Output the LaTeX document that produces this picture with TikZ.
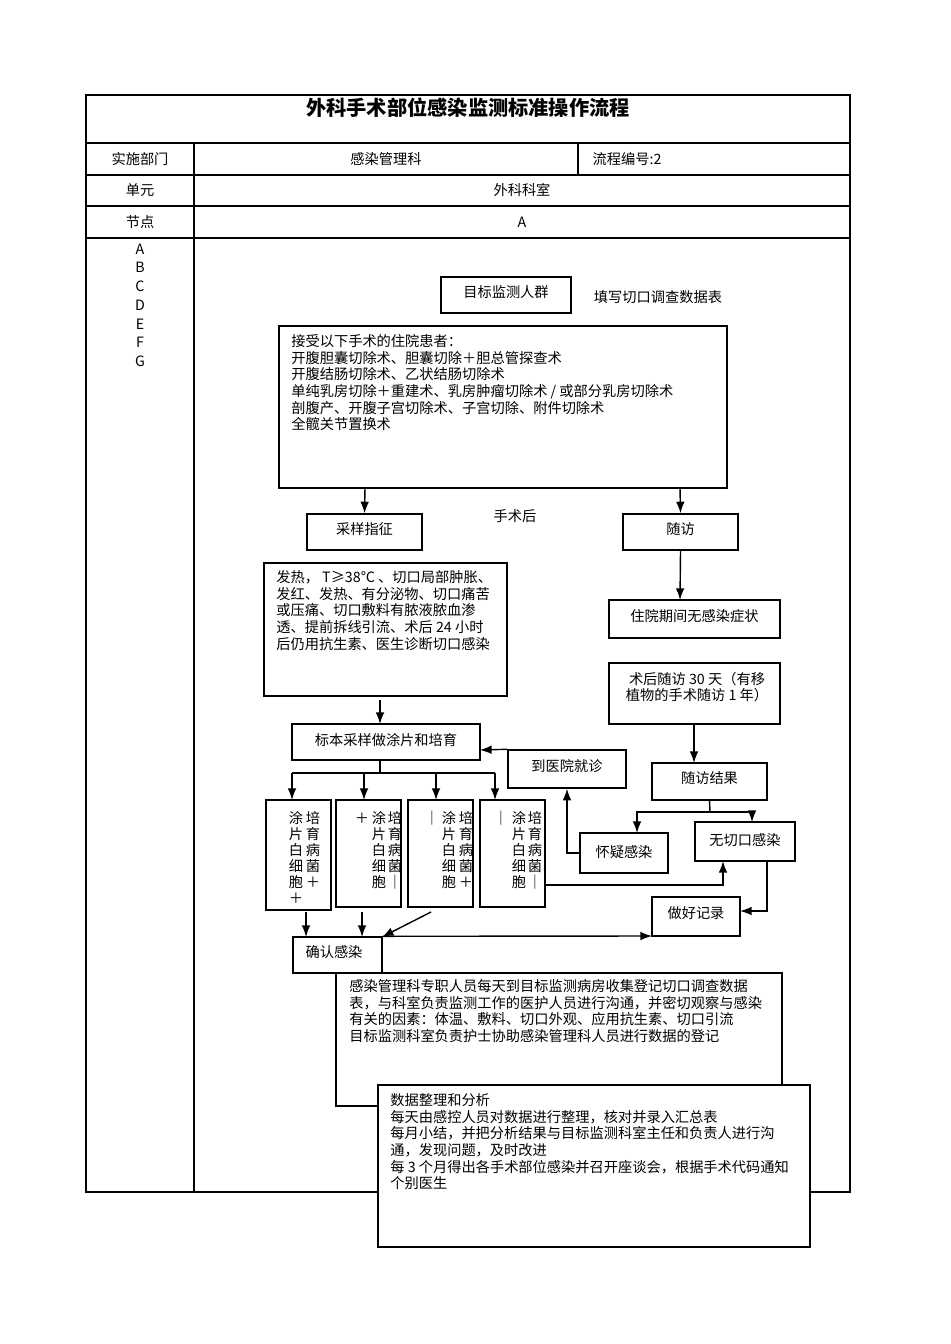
\documentclass[tikz,border=0pt]{standalone}
\usepackage{fontspec}
\setmainfont{Liberation Serif}
\newfontfamily\cjk{Noto Sans CJK SC}
\usetikzlibrary{arrows.meta}
\tikzset{
  box/.style={draw, thick, inner sep=0pt},
  lbl/.style={inner sep=0pt, font=\cjk\fontsize{8.1}{9.5}\selectfont},
  txt/.style={lbl, anchor=north west, align=left},
  arr/.style={thick, -Latex},
  ln/.style={thick}
}
\begin{document}
\begin{tikzpicture}[x=0.02cm, y=-0.02cm]
        \useasboundingbox (0,0) rectangle (950,1344);
        % table frame
        \draw[ln] (86,95) rectangle (850,1192);
        \draw[ln] (86,143) -- (850,143);
        \draw[ln] (86,175) -- (850,175);
        \draw[ln] (86,206) -- (850,206);
        \draw[ln] (86,238) -- (850,238);
        \draw[ln] (194,143) -- (194,1192);
        \draw[ln] (578,143) -- (578,175);
        \node[lbl, font=\cjk\bfseries\fontsize{11.5}{13}\selectfont] (title) at (468,108) {外科手术部位感染监测标准操作流程};
        \node[lbl] (dep) at (140,159) {实施部门};
        \node[lbl] (depv) at (386,159) {感染管理科};
        \node[lbl] (num) at (627,159) {流程编号:2};
        \node[lbl] (unit) at (140,190) {单元};
        \node[lbl] (unitv) at (522,190) {外科科室};
        \node[lbl] (nd) at (140,222) {节点};
        \node[lbl] (ndv) at (522,222) {A};
        \foreach \l [count=\i from 0] in {A,B,C,D,E,F,G}
          \node[lbl] (n\l) at (140,{249+18.7*\i}) {\l};
        % upper boxes
        \node[box, minimum width=2.6cm, minimum height=0.72cm] (tgt) at (506,295) {};
        \node[lbl] at (506,292) {目标监测人群};
        \node[lbl] (form) at (658,297) {填写切口调查数据表};
        \node[box, minimum width=8.96cm, minimum height=3.24cm] (ops) at (503,407) {};
        \node[txt] at (291,334) {接受以下手术的住院患者：\\开腹胆囊切除术、胆囊切除＋胆总管探查术\\开腹结肠切除术、乙状结肠切除术\\单纯乳房切除＋重建术、乳房肿瘤切除术 / 或部分乳房切除术\\剖腹产、开腹子宫切除术、子宫切除、附件切除术\\全髋关节置换术};
        \node[box, minimum width=2.3cm, minimum height=0.72cm] (cy) at (364.5,532) {};
        \node[lbl] at (364.5,529) {采样指征};
        \node[lbl] (after) at (515,516) {手术后};
        \node[box, minimum width=2.3cm, minimum height=0.72cm] (sf) at (680.5,532) {};
        \node[lbl] at (680.5,529) {随访};
        \draw[arr] (365,488) -- (cy.north);
        \draw[arr] (680,488) -- (sf.north);
        \node[box, minimum width=4.86cm, minimum height=2.66cm] (fr) at (385.5,629.5) {};
        \node[txt] at (276,570) {发热， T≥38℃ 、切口局部肿胀、\\发红、发热、有分泌物、切口痛苦\\或压痛、切口敷料有脓液脓血渗\\透、提前拆线引流、术后 24 小时\\后仍用抗生素、医生诊断切口感染};
        \node[box, minimum width=3.42cm, minimum height=0.76cm] (wzz) at (694.5,619) {};
        \node[lbl] at (694.5,616) {住院期间无感染症状};
        \draw[arr] (sf.south) -- (680,600);
        \node[box, minimum width=3.42cm, minimum height=1.22cm] (sh) at (694.5,693.5) {};
        \node[lbl, align=center] at (697,687) {术后随访 30 天（有移\\植物的手术随访 1 年）};
        \node[box, minimum width=3.76cm, minimum height=0.72cm] (bb) at (386,742) {};
        \node[lbl] at (386,740) {标本采样做涂片和培育};
        \draw[arr] (380,700) -- (380,724);
        \node[box, minimum width=2.36cm, minimum height=0.76cm] (jz) at (567,769) {};
        \node[lbl] at (567,766) {到医院就诊};
        \draw[arr] (jz.north west) -- (480,750);
        \node[box, minimum width=2.3cm, minimum height=0.74cm] (jg) at (709.5,781.5) {};
        \node[lbl] at (709.5,778) {随访结果};
        \draw[arr] (694,724) -- (694,763);
        \node[box, minimum width=1.76cm, minimum height=0.8cm] (yy) at (624,853) {};
        \node[lbl] at (624,852) {怀疑感染};
        \node[box, minimum width=2cm, minimum height=0.78cm] (wq) at (745,841.5) {};
        \node[lbl] at (745,840) {无切口感染};
        \node[box, minimum width=1.76cm, minimum height=0.78cm] (jl) at (696,916.5) {};
        \node[lbl] at (696,913) {做好记录};
        \draw[ln] (jg.south) -- (710,812);
        \draw[arr] (710,812) -- (637,812) -- (637,833);
        \draw[arr] (710,812) -- (752,812) -- (752,822);
        \draw[arr] (yy.west) -- (567,853) -- (jz.south);
        \draw[arr] (767,861) -- (767,911) -- (740,911);
        % culture boxes
        \draw[ln] (380,760) -- (380,773);
        \draw[ln] (292,773) -- (495,773);
        \foreach \x in {292,364,436,495}
          \draw[arr] (\x,773) -- (\x,800);
        \node[box, minimum width=1.3cm, minimum height=2.2cm] (b1) at (298.5,855) {};
        \node[box, minimum width=1.3cm, minimum height=2.14cm] (b2) at (368.5,853.5) {};
        \node[box, minimum width=1.3cm, minimum height=2.14cm] (b3) at (440.5,853.5) {};
        \node[box, minimum width=1.3cm, minimum height=2.14cm] (b4) at (512.5,853.5) {};
        \foreach \x/\s in {296/{涂,片,白,细,胞,＋},313/{培,育,病,菌,＋},
                          379/{涂,片,白,细,胞},395/{培,育,病,菌,｜},
                          449/{涂,片,白,细,胞},466/{培,育,病,菌,＋},
                          519/{涂,片,白,细,胞},535/{培,育,病,菌,｜}}
          \foreach \c [count=\i from 0] in \s
            \node[lbl] at (\x,{818+16*\i}) {\c};
        \node[lbl] at (362,818) {＋};
        \node[lbl] at (432,818) {｜};
        \node[lbl] at (501,818) {｜};
        \draw[arr] (545,885) -- (723,885) -- (723,861);
        % confirm and record
        \node[box, minimum width=1.78cm, minimum height=0.72cm] (qr) at (337.5,955) {};
        \node[lbl] at (334,952) {确认感染};
        \draw[arr] (306,912) -- (306,937);
        \draw[arr] (362,912) -- (362,937);
        \draw[arr] (431,912) -- (382,937);
        \draw[arr] (qr.north east) -- (652,936);
        % bottom text boxes
        \node[box, minimum width=8.92cm, minimum height=2.66cm] (sj) at (559,1039.5) {};
        \node[txt] at (349,979) {感染管理科专职人员每天到目标监测病房收集登记切口调查数据\\表，与科室负责监测工作的医护人员进行沟通，并密切观察与感染\\有关的因素：体温、敷料、切口外观、应用抗生素、切口引流\\目标监测科室负责护士协助感染管理科人员进行数据的登记};
        \node[box, fill=white, minimum width=8.64cm, minimum height=3.24cm] (fx) at (594,1166) {};
        \node[txt] at (390,1093) {数据整理和分析\\每天由感控人员对数据进行整理，核对并录入汇总表\\每月小结，并把分析结果与目标监测科室主任和负责人进行沟\\通，发现问题，及时改进\\每 3 个月得出各手术部位感染并召开座谈会，根据手术代码通知\\个别医生};
\end{tikzpicture}
\end{document}
